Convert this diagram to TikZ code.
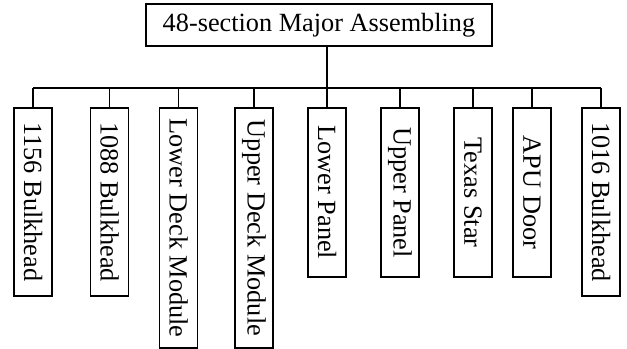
\documentclass[tikz,border=0pt]{standalone}
\usepackage{fontspec}
\setmainfont{Liberation Serif}
\usetikzlibrary{calc}
\tikzset{
	topbox/.style={draw, line width=1.1pt, inner sep=0pt, minimum width=8.65cm, minimum height=1.05cm, font=\fontsize{18.7}{20}\selectfont},
	partbox/.style={draw, line width=1.1pt, inner sep=0pt, rotate=-90, minimum height=0.95cm, font=\fontsize{18.7}{20}\selectfont},
	link/.style={line width=1.1pt}
}

\begin{document}
\begin{tikzpicture}
			%%%%% START %%%%%
			\useasboundingbox (0, 0) rectangle (15.675, 8.725);
			
			\node[topbox] (major) at (7.975, 8.1) {48-section Major Assembling};
			
			\node[partbox, minimum width=4.7cm] (p1) at (0.825, 3.675) {1156 Bulkhead};
			\node[partbox, minimum width=4.7cm] (p2) at (2.7375, 3.675) {1088 Bulkhead};
			\node[partbox, minimum width=6.0cm] (p3) at (4.4625, 3.025) {Lower Deck Module};
			\node[partbox, minimum width=6.0cm] (p4) at (6.35, 3.025) {Upper Deck Module};
			\node[partbox, minimum width=4.225cm] (p5) at (8.175, 3.9125) {Lower Panel};
			\node[partbox, minimum width=4.225cm] (p6) at (10.0, 3.9125) {Upper Panel};
			\node[partbox, minimum width=4.225cm] (p7) at (11.825, 3.9125) {Texas Star};
			\node[partbox, minimum width=4.225cm] (p8) at (13.3, 3.9125) {APU Door};
			\node[partbox, minimum width=4.7cm] (p9) at (15.025, 3.675) {1016 Bulkhead};
			
			\coordinate (bus) at (0, 6.525);
			
			\draw[link] (p5.west |- major.south) -- (p5.west |- bus);
			\draw[link] (p1.west |- bus) -- (p9.west |- bus);
			\foreach \p in {p1, p2, p3, p4, p5, p6, p7, p8, p9}
				\draw[link] (\p.west) -- (\p.west |- bus);
			
			%%%%% END %%%%%
\end{tikzpicture}
\end{document}
